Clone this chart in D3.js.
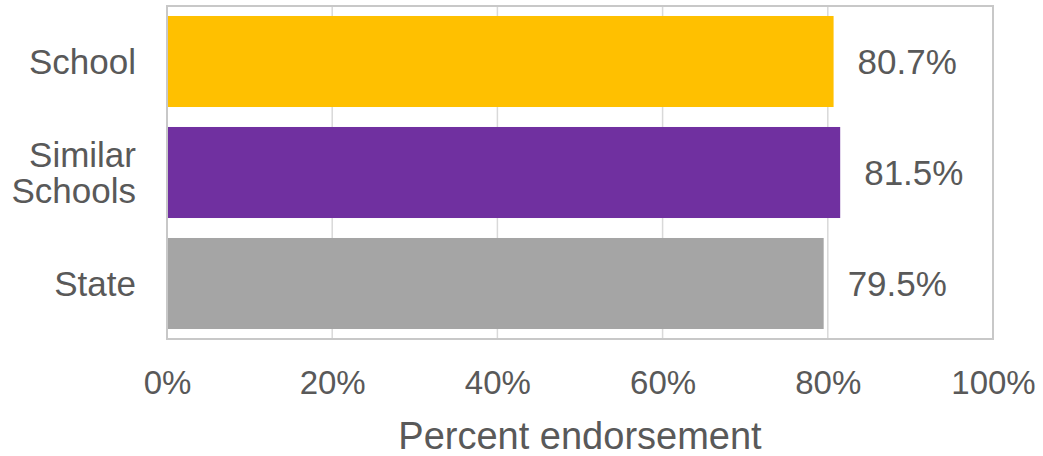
<!DOCTYPE html>
<html><head><meta charset="utf-8">
<script src="https://cdn.jsdelivr.net/npm/d3@7"></script>
<style>body{margin:0;background:#fff}svg{display:block}text{font-family:"Liberation Sans",Arial,sans-serif;fill:#595959}</style>
</head><body><svg width="1043" height="456"></svg>
<script>
const categories = ["School", "Similar Schools", "State"];
const categoryLines = [["School"], ["Similar", "Schools"], ["State"]];
const values = [80.7, 81.5, 79.5];
const colors = ["#FFC000", "#7030A0", "#A5A5A5"];
const tickValues = [0, 20, 40, 60, 80, 100];
const tickLabels = ["0%", "20%", "40%", "60%", "80%", "100%"];
const axisTitle = "Percent endorsement";

const svg = d3.select("svg");
const m = {left:167, right:993, top:6, bottom:339};
const x = d3.scaleLinear().domain([0,100]).range([m.left, m.right]);
const y = d3.scaleBand().domain(categories).range([m.top, m.bottom]).paddingInner(0.18).paddingOuter(0.09);

// gridlines
svg.append("g").selectAll("line").data(tickValues).join("line")
  .attr("x1", d=>x(d)).attr("x2", d=>x(d)).attr("y1", m.top).attr("y2", m.bottom)
  .attr("stroke", "#D9D9D9").attr("stroke-width", 1.5);

// bars
svg.append("g").selectAll("rect").data(categories).join("rect")
  .attr("x", x(0)).attr("y", d=>y(d))
  .attr("width", (d,i)=>x(values[i])-x(0)).attr("height", y.bandwidth())
  .attr("fill", (d,i)=>colors[i]);

// border
svg.append("rect").attr("x", m.left).attr("y", m.top).attr("width", m.right-m.left).attr("height", m.bottom-m.top)
  .attr("fill","none").attr("stroke","#C8C8C8").attr("stroke-width",2);

// value labels
svg.append("g").selectAll("text").data(categories).join("text")
  .attr("x", (d,i)=>x(values[i])+24).attr("y", d=>y(d)+y.bandwidth()/2+12)
  .attr("font-size", 35)
  .text((d,i)=>values[i].toFixed(1)+"%");

// category labels
const cl = svg.append("g").selectAll("text").data(categories).join("text")
  .attr("text-anchor","end").attr("font-size",35)
  .attr("y", d=>y(d)+y.bandwidth()/2+12);
cl.each(function(d,i){
  const lines = categoryLines[i];
  d3.select(this).selectAll("tspan").data(lines).join("tspan")
    .attr("x", 136)
    .attr("dy", (l,j)=> j===0 ? -(lines.length-1)*18 : 36)
    .text(l=>l);
});

// x axis
const axis = d3.axisBottom(x).tickValues(tickValues).tickFormat((d,i)=>tickLabels[i]).tickSize(0).tickPadding(0);
const ag = svg.append("g").attr("transform",`translate(0,${m.bottom})`).call(axis);
ag.select(".domain").remove();
ag.selectAll("text").attr("font-size",33).attr("dy",null).attr("y",55).style("font-family","'Liberation Sans',Arial,sans-serif").attr("fill","#595959");

svg.append("text").attr("x",(m.left+m.right)/2).attr("y",449).attr("text-anchor","middle")
  .attr("font-size",38).text(axisTitle);
</script></body></html>
